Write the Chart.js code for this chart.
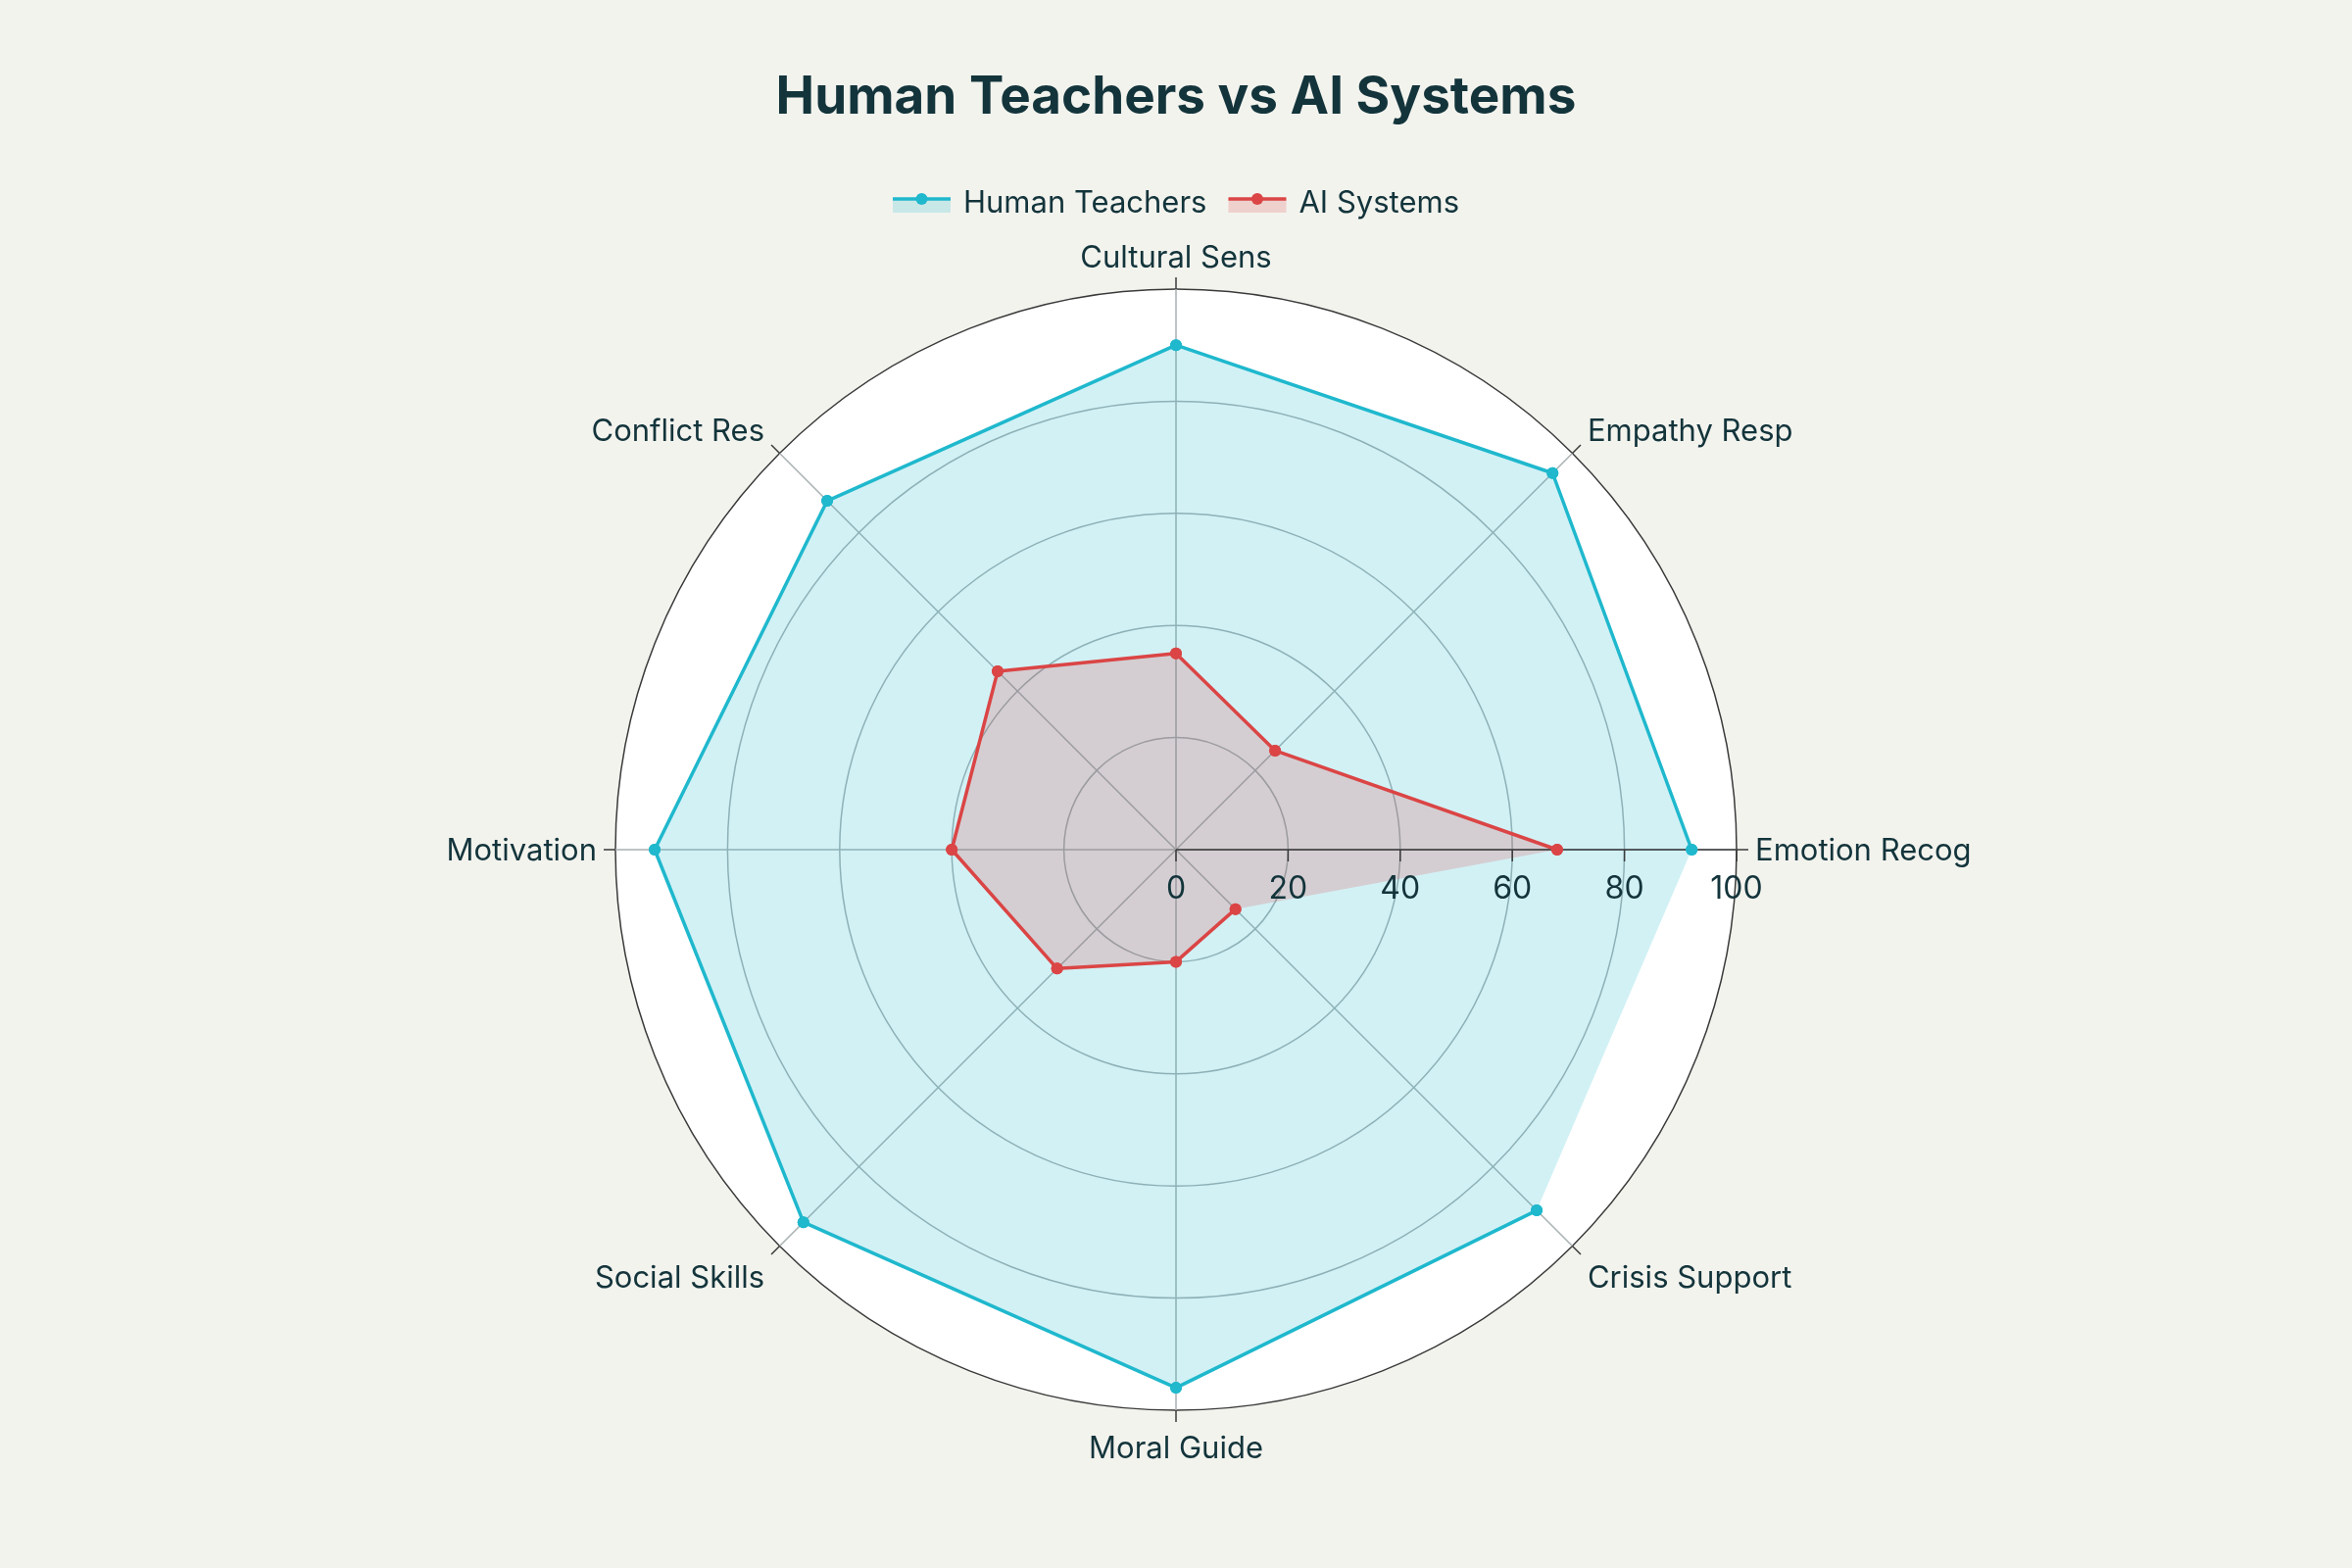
<!DOCTYPE html>
<html lang="en">
<head>
<meta charset="UTF-8">
<title>Human Teachers vs AI Systems</title>
<style>
  body {
    margin: 0;
    background: #F3F3EE;
  }
  #wrap {
    width: 2400px;
    height: 1600px;
  }
</style>
<script src="https://cdn.jsdelivr.net/npm/chart.js@4.4.1/dist/chart.umd.min.js"></script>
</head>
<body>
<div id="wrap"><canvas id="radarChart" width="2400" height="1600"></canvas></div>
<script>
// categories go clockwise starting at the right (3 o'clock)
const categories = ['Emotion Recog', 'Crisis Support', 'Moral Guide', 'Social Skills', 'Motivation', 'Conflict Res', 'Cultural Sens', 'Empathy Resp'];
const humanValues = [92, 91, 96, 94, 93, 88, 90, 95];
const aiValues = [68, 15, 20, 30, 40, 45, 35, 25];
const radialTicks = [0, 20, 40, 60, 80, 100];
const seriesNames = ['Human Teachers', 'AI Systems'];

const seriesColors = ['#1FB8CD', '#DB4545'];
const seriesFills = ['rgba(31,184,205,0.2)', 'rgba(219,69,69,0.2)'];
const textColor = '#13343B';
const gridColor = '#a9b0b2';
const axisColor = '#3a3a3a';
const FONT = 'Inter, "Noto Sans", sans-serif';
const LINE_W = 3.5;

// background, axis ticks, outlines, labels and legend around the radar scale
const polarDecor = {
  id: 'polarDecor',
  beforeDraw(chart) {
    const ctx = chart.ctx, r = chart.scales.r;
    ctx.save();
    ctx.fillStyle = '#F3F3EE';
    ctx.fillRect(0, 0, chart.width, chart.height);
    ctx.beginPath();
    ctx.arc(r.xCenter, r.yCenter, r.drawingArea, 0, Math.PI * 2);
    ctx.fillStyle = '#ffffff';
    ctx.fill();
    ctx.restore();
  },
  beforeDatasetsDraw(chart) {
    const ctx = chart.ctx, r = chart.scales.r;
    const R = r.drawingArea;
    ctx.save();
    ctx.strokeStyle = axisColor;
    ctx.lineWidth = 1.5;
    // little ticks outside the outer circle
    categories.forEach((c, i) => {
      const a = r.getPointPosition(i, R);
      const b = r.getPointPosition(i, R + 12);
      ctx.beginPath(); ctx.moveTo(a.x, a.y); ctx.lineTo(b.x, b.y); ctx.stroke();
    });
    // radial axis along the first category
    const end = r.getPointPositionForValue(0, radialTicks[radialTicks.length - 1]);
    ctx.beginPath(); ctx.moveTo(r.xCenter, r.yCenter); ctx.lineTo(end.x, end.y); ctx.stroke();
    ctx.fillStyle = textColor;
    ctx.font = '32px ' + FONT;
    ctx.textAlign = 'center';
    ctx.textBaseline = 'alphabetic';
    radialTicks.forEach(v => {
      const p = r.getPointPositionForValue(0, v);
      ctx.beginPath(); ctx.moveTo(p.x, p.y); ctx.lineTo(p.x, p.y + 12); ctx.stroke();
      ctx.fillText(String(v), p.x, p.y + 50);
    });
    ctx.restore();
  },
  afterDatasetsDraw(chart) {
    // the traces are open: no edge between the first two categories, only the fill closes it
    const ctx = chart.ctx;
    ctx.save();
    ctx.lineJoin = 'round';
    chart.data.datasets.forEach((d, i) => {
      const pts = chart.getDatasetMeta(i).data;
      ctx.strokeStyle = seriesColors[i];
      ctx.lineWidth = LINE_W;
      ctx.beginPath();
      for (let k = 1; k <= pts.length; k++) {
        const p = pts[k % pts.length];
        if (k === 1) ctx.moveTo(p.x, p.y); else ctx.lineTo(p.x, p.y);
      }
      ctx.stroke();
      pts.forEach(p => p.draw(ctx));
    });
    ctx.restore();
  },
  afterDraw(chart) {
    const ctx = chart.ctx, r = chart.scales.r;
    const R = r.drawingArea;
    ctx.save();
    ctx.fillStyle = textColor;
    ctx.font = '31px ' + FONT;
    ctx.textBaseline = 'alphabetic';
    categories.forEach((c, i) => {
      const tip = r.getPointPosition(i, R + 12);
      const dx = (tip.x - r.xCenter) / (R + 12);
      const dy = (tip.y - r.yCenter) / (R + 12);
      let x = tip.x, y = tip.y;
      if (dx > 0.3) { ctx.textAlign = 'left'; x += 7; }
      else if (dx < -0.3) { ctx.textAlign = 'right'; x -= 7; }
      else { ctx.textAlign = 'center'; }
      if (dy < -0.9) y -= 10;
      else if (dy > 0.9) y += 37;
      else if (dy < -0.3) y -= 4;
      else if (dy > 0.3) y += 34;
      else y += 11;
      ctx.fillText(c, x, y);
    });

    // legend
    const sets = chart.data.datasets;
    const symW = 59, gapSym = 13, gapItem = 22;
    const widths = sets.map(d => ctx.measureText(d.label).width);
    let total = 0;
    widths.forEach((w, i) => { total += symW + gapSym + w + (i < widths.length - 1 ? gapItem : 0); });
    let x = 1200 - total / 2;
    const ly = 203;
    sets.forEach((d, i) => {
      ctx.fillStyle = seriesFills[i];
      ctx.fillRect(x, ly, symW, 14);
      ctx.strokeStyle = seriesColors[i];
      ctx.lineWidth = LINE_W;
      ctx.beginPath(); ctx.moveTo(x, ly); ctx.lineTo(x + symW, ly); ctx.stroke();
      ctx.fillStyle = seriesColors[i];
      ctx.beginPath(); ctx.arc(x + symW / 2, ly, 6, 0, Math.PI * 2); ctx.fill();
      ctx.fillStyle = textColor;
      ctx.textAlign = 'left';
      ctx.fillText(d.label, x + symW + gapSym, ly + 14);
      x += symW + gapSym + widths[i] + gapItem;
    });
    ctx.restore();
  }
};

function makeSet(i, values) {
  return {
    label: seriesNames[i],
    data: values,
    order: seriesNames.length - 1 - i,   // human fill underneath
    borderColor: seriesColors[i],
    backgroundColor: seriesFills[i],
    borderWidth: 0,
    fill: true,
    pointRadius: 6,
    pointBorderWidth: 0,
    pointBackgroundColor: seriesColors[i]
  };
}

const radarCtx = document.getElementById('radarChart').getContext('2d');
const radarChart = new Chart(radarCtx, {
  type: 'radar',
  data: {
    labels: categories,
    datasets: [makeSet(0, humanValues), makeSet(1, aiValues)]
  },
  options: {
    responsive: false,
    devicePixelRatio: 1,
    animation: false,
    layout: { padding: { top: 0, bottom: 160, left: 0, right: 0 } },
    elements: { line: { tension: 0 } },
    scales: {
      r: {
        min: 0,
        max: 100,
        startAngle: 90,
        ticks: { display: false, stepSize: 20 },
        pointLabels: { display: false },
        grid: {
          circular: true,
          color: c => (c.tick && c.tick.value === 100) ? axisColor : gridColor,
          lineWidth: 1.5
        },
        angleLines: { color: gridColor, lineWidth: 1.5 }
      }
    },
    plugins: {
      legend: { display: false },
      tooltip: { enabled: false },
      filler: { drawTime: 'beforeDatasetsDraw' },
      title: {
        display: true,
        text: 'Human Teachers vs AI Systems',
        color: textColor,
        font: { family: FONT, size: 53, weight: 'bold' },
        padding: { top: 68, bottom: 164 }
      }
    }
  },
  plugins: [polarDecor]
});
</script>
</body>
</html>
